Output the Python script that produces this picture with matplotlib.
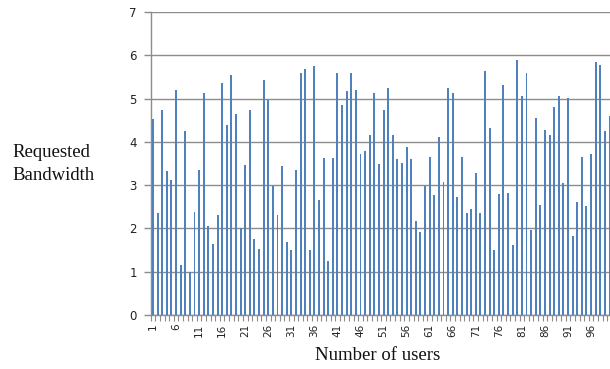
import matplotlib
matplotlib.use("Agg")
import matplotlib.pyplot as plt
import numpy as np

# Requested bandwidth per user (users 1..100)
users = list(range(1, 101))
bandwidth = [
    4.52, 2.35, 4.74, 3.32, 3.12, 5.20, 1.15, 4.25, 1.00, 2.39,
    3.35, 5.12, 2.05, 1.65, 2.32, 5.37, 4.38, 5.55, 4.65, 2.02,
    3.47, 4.74, 1.76, 1.53, 5.43, 4.97, 2.98, 2.32, 3.44, 1.68,
    1.50, 3.35, 5.60, 5.68, 1.50, 5.75, 2.65, 3.62, 1.25, 3.62,
    5.60, 4.85, 5.17, 5.60, 5.19, 3.72, 3.78, 4.15, 5.14, 3.49,
    4.74, 5.25, 4.15, 3.61, 3.52, 3.87, 3.61, 2.18, 1.91, 2.98,
    3.64, 2.77, 4.12, 3.08, 5.25, 5.14, 2.72, 3.66, 2.35, 2.45,
    3.29, 2.35, 5.63, 4.33, 1.50, 2.80, 5.32, 2.83, 1.62, 5.88,
    5.05, 5.58, 1.96, 4.56, 2.55, 4.28, 4.15, 4.80, 5.05, 3.06,
    5.02, 1.82, 2.60, 3.64, 2.52, 3.72, 5.85, 5.78, 4.25, 4.60,
]
y_ticks = [0, 1, 2, 3, 4, 5, 6, 7]
x_tick_users = list(range(1, 100, 5))

bar_color = "#4F81BD"
grid_color = "#8C8C8C"

fig = plt.figure(figsize=(6.10, 3.69), dpi=100)
ax = fig.add_axes([150.7 / 610, 1 - 315 / 369, (611.8 - 150.7) / 610, (315 - 12) / 369])

ax.bar(users, bandwidth, width=0.42, color=bar_color, linewidth=0, zorder=3)

ax.set_xlim(0.5, 100.5)
ax.set_ylim(0, 7)

# horizontal gridlines
ax.set_yticks(y_ticks)
ax.yaxis.grid(True, color=grid_color, linewidth=1.0, zorder=0)
ax.set_axisbelow(True)
ax.tick_params(axis="y", length=5, width=1.0, color=grid_color, pad=5,
               labelsize=8.5, labelcolor="#222222")

# category labels every 5 users, tick marks at category boundaries
ax.set_xticks(x_tick_users)
ax.set_xticklabels([str(u) for u in x_tick_users], rotation=90,
                   fontsize=7.5, color="#222222")
ax.tick_params(axis="x", which="major", length=0, pad=6)
ax.set_xticks(np.arange(0.5, 101, 1.0), minor=True)
ax.tick_params(axis="x", which="minor", length=4, width=0.8, color=grid_color)

for side in ("top", "right"):
    ax.spines[side].set_visible(False)
ax.spines["left"].set_color(grid_color)
ax.spines["left"].set_linewidth(1.0)
ax.spines["bottom"].set_color(grid_color)
ax.spines["bottom"].set_linewidth(1.0)

fig.text(12 / 610, 1 - 164 / 369, "Requested\nBandwidth", ha="left", va="center",
         family="Liberation Serif", fontsize=13.5, linespacing=1.45, color="#111111")
fig.text(378 / 610, 1 - 356 / 369, "Number of users", ha="center", va="center",
         family="Liberation Serif", fontsize=13.5, color="#111111")

fig.savefig("out.png", dpi=100)
